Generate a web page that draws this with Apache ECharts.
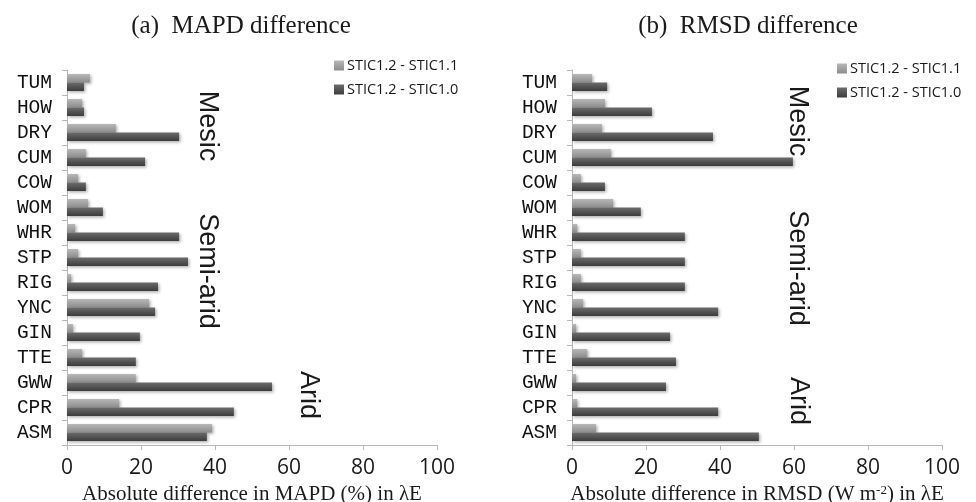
<!DOCTYPE html>
<html>
<head>
<meta charset="utf-8">
<script src="https://cdn.jsdelivr.net/npm/echarts@6/dist/echarts.min.js"></script>
<style>html,body{margin:0;padding:0;background:#fff}#c{width:976px;height:502px}</style>
</head>
<body>
<div id="c"></div>
<script>
const categories = ['TUM','HOW','DRY','CUM','COW','WOM','WHR','STP','RIG','YNC','GIN','TTE','GWW','CPR','ASM'];
const seriesNames = ['STIC1.2 - STIC1.1', 'STIC1.2 - STIC1.0'];
const mapd_12_11 = [6.2,4.1,13.2,5.1,3.0,5.7,2.2,3.0,1.1,22.2,1.6,4.1,18.6,14.1,39.2];
const mapd_12_10 = [4.6,4.6,30.3,21.1,5.1,9.7,30.3,32.7,24.6,23.8,19.7,18.6,55.4,45.1,37.8];
const rmsd_12_11 = [5.4,8.9,8.1,10.5,2.4,11.1,1.4,2.4,2.4,3.0,1.1,4.1,1.1,1.4,6.5];
const rmsd_12_10 = [9.5,21.6,38.1,59.7,8.9,18.6,30.5,30.5,30.5,39.5,26.5,28.1,25.4,39.5,50.5];
const xTicks = [0,20,40,60,80,100];

const chart = echarts.init(document.getElementById('c'), null, {renderer:'canvas'});

const lightColor = new echarts.graphic.LinearGradient(0,0,0,1,[{offset:0,color:'#b8b8b8'},{offset:1,color:'#8c8c8c'}]);
const darkColor = new echarts.graphic.LinearGradient(0,0,0,1,[{offset:0,color:'#6c6c6c'},{offset:1,color:'#3c3c3c'}]);

function xAxis(gi, name) {
  return {
    type:'value', gridIndex:gi, min:xTicks[0], max:xTicks[xTicks.length-1], interval:20,
    axisLine:{show:true, lineStyle:{color:'#b8b8b8', width:1}},
    axisTick:{show:true, length:5, lineStyle:{color:'#b8b8b8'}},
    splitLine:{show:false},
    axisLabel:{fontFamily:'Open Sans', fontSize:21, color:'#1a1a1a', margin:13},
    name:name, nameLocation:'middle', nameGap:37,
    nameTextStyle:{fontFamily:'Liberation Serif', fontSize:21, color:'#1a1a1a',
      rich:{sup:{fontFamily:'Liberation Serif', fontSize:13, verticalAlign:'top', padding:[0,0,9,0], color:'#1a1a1a'}}}
  };
}
function yAxis(gi) {
  return {
    type:'category', gridIndex:gi, data:categories, inverse:true,
    axisLine:{show:true, lineStyle:{color:'#b8b8b8', width:1}},
    axisTick:{show:true, length:5, lineStyle:{color:'#b8b8b8'}},
    axisLabel:{interval:0, fontFamily:'Liberation Mono', fontSize:19.5, color:'#111', margin:15}
  };
}
function barSeries(name, data, xi, color) {
  return {
    type:'bar', name:name, data:data, xAxisIndex:xi, yAxisIndex:xi,
    barWidth:8.5, barGap:'0%',
    itemStyle:{color:color, shadowColor:'rgba(0,0,0,0.3)', shadowBlur:3, shadowOffsetX:1.5, shadowOffsetY:1.5},
    emphasis:{disabled:true}, animation:false
  };
}
function rotText(x, y, t) {
  return {type:'text', x:x, y:y, rotation:-Math.PI/2,
    style:{text:t, font:'27px "Liberation Sans"', fill:'#1a1a1a', align:'center', verticalAlign:'middle'}};
}
const legendCommon = {
  orient:'vertical', itemWidth:10, itemHeight:10, itemGap:9, icon:'rect',
  textStyle:{fontFamily:'Open Sans', fontSize:14.5, color:'#1a1a1a', padding:[0,0,0,-2]},
  data:seriesNames
};

chart.setOption({
  animation:false,
  title:[
    {text:'(a)  MAPD difference', left:236, top:21, textAlign:'center', textVerticalAlign:'middle',
      textStyle:{fontFamily:'Liberation Serif', fontSize:25, fontWeight:'normal', color:'#1a1a1a'}},
    {text:'(b)  RMSD difference', left:743, top:21, textAlign:'center', textVerticalAlign:'middle',
      textStyle:{fontFamily:'Liberation Serif', fontSize:25, fontWeight:'normal', color:'#1a1a1a'}}
  ],
  legend:[
    Object.assign({left:329, top:53}, legendCommon),
    Object.assign({left:832, top:56}, legendCommon)
  ],
  grid:[
    {left:67, top:70, width:370, height:375, containLabel:false, outerBoundsMode:'none'},
    {left:572, top:70, width:370, height:375, containLabel:false, outerBoundsMode:'none'}
  ],
  xAxis:[xAxis(0,'Absolute difference in MAPD (%) in λE'), xAxis(1,'Absolute difference in RMSD (W m{sup|-2}) in λE')],
  yAxis:[yAxis(0), yAxis(1)],
  series:[
    barSeries(seriesNames[0], mapd_12_11, 0, lightColor),
    barSeries(seriesNames[1], mapd_12_10, 0, darkColor),
    barSeries(seriesNames[0], rmsd_12_11, 1, lightColor),
    barSeries(seriesNames[1], rmsd_12_10, 1, darkColor)
  ],
  graphic:[
    rotText(207,126,'Mesic'), rotText(207,271,'Semi-arid'), rotText(308,395,'Arid'),
    rotText(797,121,'Mesic'), rotText(797,268,'Semi-arid'), rotText(798,401,'Arid')
  ]
});
</script>
</body>
</html>
